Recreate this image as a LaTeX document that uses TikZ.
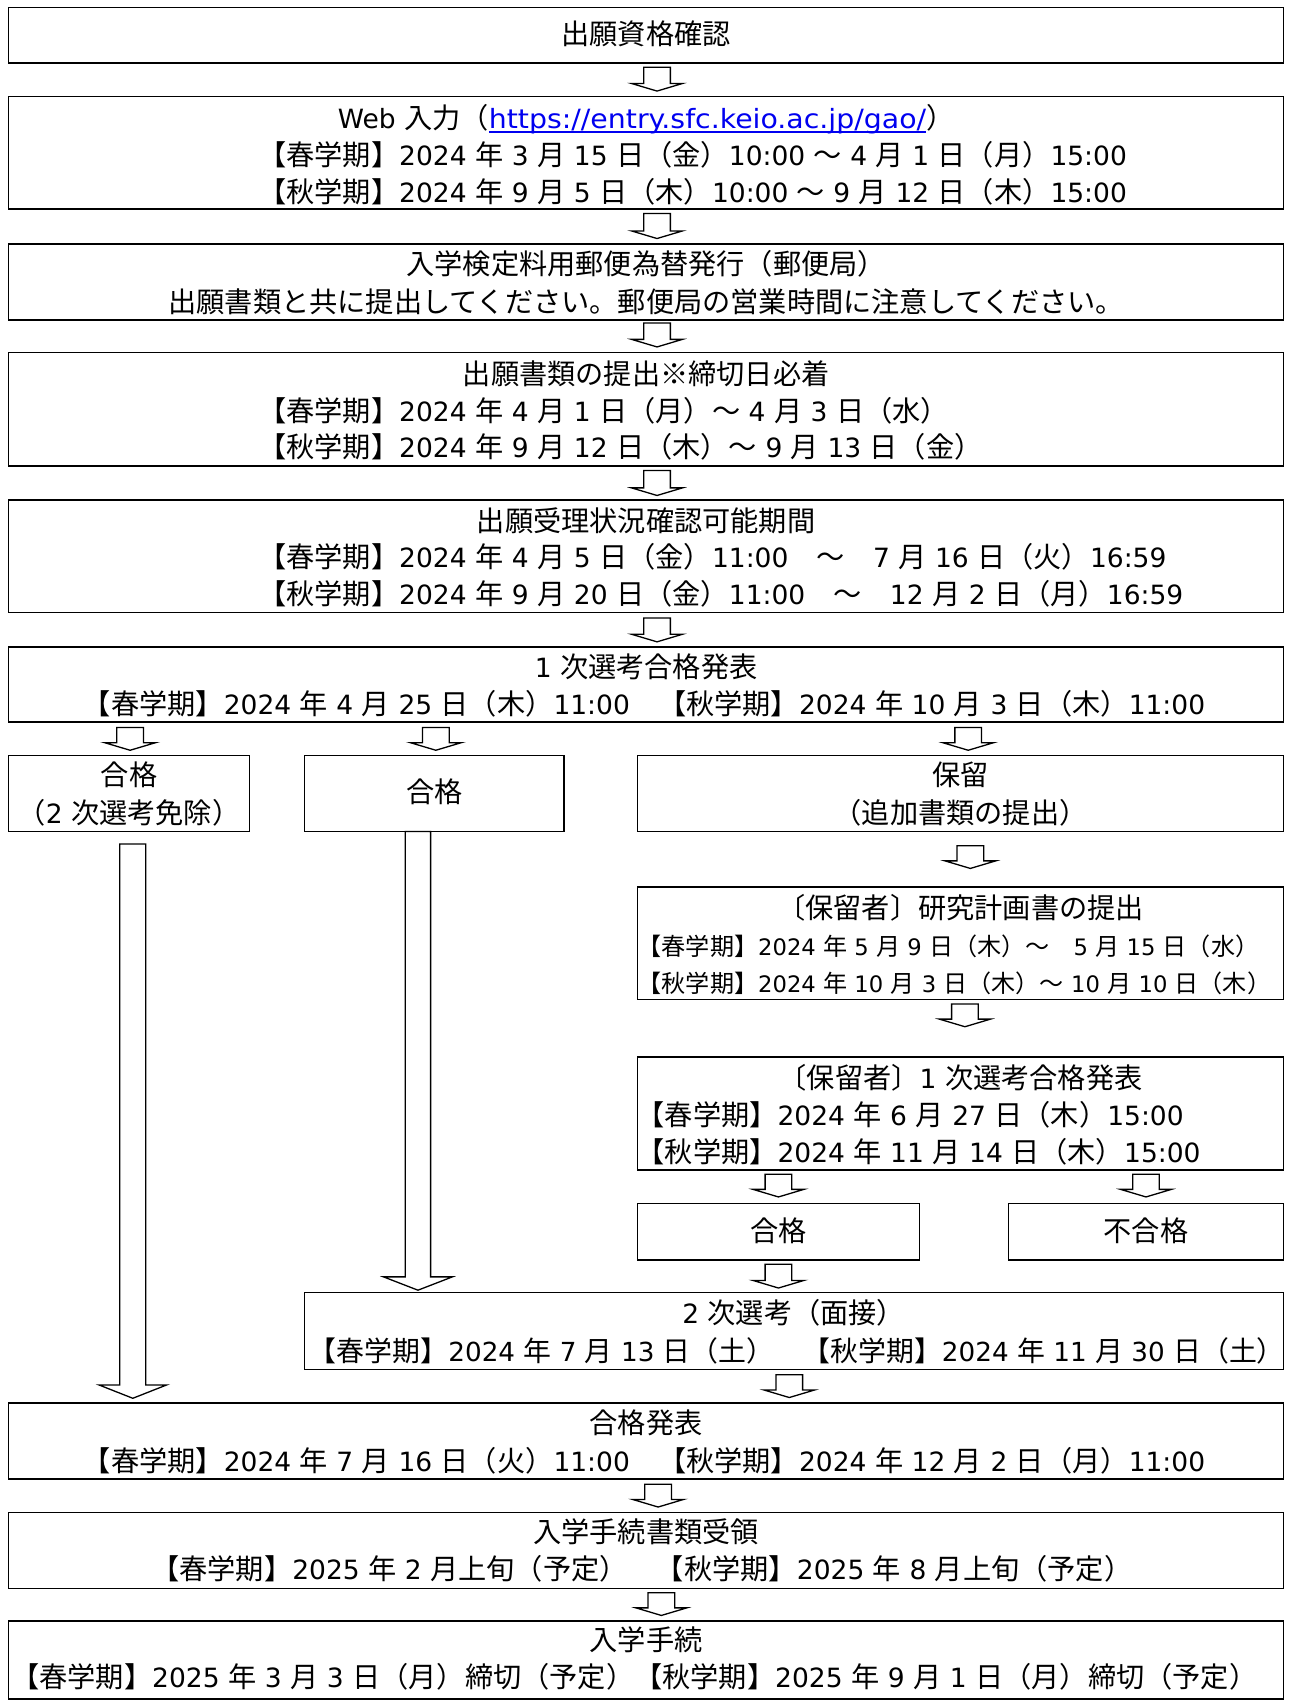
\documentclass[tikz,border=0pt]{standalone}
\usepackage{fontspec}
\usepackage{graphicx}
\setmainfont{DejaVu Sans}[Scale=0.94]
\newfontfamily\latfont{DejaVu Sans}[Scale=0.94]
\newfontfamily\cjkfont{Noto Sans CJK JP}
\usetikzlibrary{fit}
\definecolor{urlblue}{RGB}{0,0,240}
% automatic font switching between Latin and Japanese
\XeTeXinterchartokenstate=1
\chardef\cjkA=20
\chardef\cjkP=21
\makeatletter
\count@="3000
\loop\XeTeXcharclass\count@=\cjkA \advance\count@ by 1 \ifnum\count@<"A000 \repeat
\count@="FF00
\loop\XeTeXcharclass\count@=\cjkA \advance\count@ by 1 \ifnum\count@<"FFF0 \repeat
\makeatother
\XeTeXcharclass"203B=\cjkA
\XeTeXcharclass"3000=\cjkP
\XeTeXcharclass"3001=\cjkP
\XeTeXcharclass"3002=\cjkP
\XeTeXcharclass"3010=\cjkP
\XeTeXcharclass"3011=\cjkP
\XeTeXcharclass"3014=\cjkP
\XeTeXcharclass"3015=\cjkP
\XeTeXcharclass"FF08=\cjkP
\XeTeXcharclass"FF09=\cjkP
\XeTeXcharclass"FF5E=\cjkP
\XeTeXinterchartoks 0 \cjkA={\hskip.32em\cjkfont}
\XeTeXinterchartoks 4095 \cjkA={\cjkfont}
\XeTeXinterchartoks 0 \cjkP={\cjkfont}
\XeTeXinterchartoks 4095 \cjkP={\cjkfont}
\XeTeXinterchartoks \cjkA 0={\latfont\hskip.32em}
\XeTeXinterchartoks \cjkA 4095={\latfont}
\XeTeXinterchartoks \cjkP 0={\latfont}
\XeTeXinterchartoks \cjkP 4095={\latfont}
\newcommand\mainsz{\fontsize{28.2pt}{34pt}\selectfont}
\newcommand\tightsz{\fontsize{27.9pt}{34pt}\selectfont}
\newcommand\smallsz{\fontsize{24.1pt}{29pt}\selectfont}
\newcommand\urltext[1]{\setbox0\hbox{\scalebox{1.07}[1]{\latfont #1}}\rlap{\rule[-4.2pt]{\wd0}{1.7pt}}\box0}
\newcommand\blockarr[6]{\draw[barrow] ({#1-#4},#2) -- ({#1+#4},#2) -- ({#1+#4},{#3-#6}) -- ({#1+#5},{#3-#6}) -- (#1,#3) -- ({#1-#5},{#3-#6}) -- ({#1-#4},{#3-#6}) -- cycle;}
\newcommand\sarr[3]{\blockarr{#1}{#2}{#3}{12.3}{23.5}{7}}
\tikzset{
  box/.style={draw, line width=1.6pt, inner sep=0pt},
  txt/.style={inner sep=0pt, text height=24.8pt, text depth=3.6pt, font=\mainsz},
  stxt/.style={inner sep=0pt, text height=21.2pt, text depth=3.1pt, font=\smallsz},
  barrow/.style={draw, line width=1.3pt, fill=white, line join=miter},
}
\begin{document}
\begin{tikzpicture}[x=1.0842pt,y=-1.0842pt]
\useasboundingbox (0,0) rectangle (1188,1568);
\fill[white] (0,0) rectangle (1188,1568);
% boxes
\node[box, fit={(8,7) (1184,58)}] (b1) {};
\node[box, fit={(8,89) (1184,193)}] (b2) {};
\node[box, fit={(8,225) (1184,295)}] (b3) {};
\node[box, fit={(8,325) (1184,430)}] (b4) {};
\node[box, fit={(8,461) (1184,565)}] (b5) {};
\node[box, fit={(8,597) (1184,666)}] (b6) {};
\node[box, fit={(8,697) (230,767)}] (b7a) {};
\node[box, fit={(281,697) (520,767)}] (b7b) {};
\node[box, fit={(588,697) (1184,767)}] (b7c) {};
\node[box, fit={(588,818) (1184,922)}] (b8) {};
\node[box, fit={(588,975) (1184,1079)}] (b9) {};
\node[box, fit={(588,1110) (848,1162)}] (b10a) {};
\node[box, fit={(930,1110) (1184,1162)}] (b10b) {};
\node[box, fit={(281,1192) (1184,1263)}] (b11) {};
\node[box, fit={(8,1294) (1184,1364)}] (b12) {};
\node[box, fit={(8,1395) (1184,1465)}] (b13) {};
\node[box, fit={(8,1495) (1184,1567)}] (b14) {};
% texts
\node[txt] (t1) at (596,31) {出願資格確認};
\node[txt] (t2a) at (596,109) {Web 入力（\textcolor{urlblue}{\urltext{https://entry.sfc.keio.ac.jp/gao/}}）};
\node[txt, anchor=west] (t2b) at (238,143) {【春学期】2024年3月15日（金）10:00 ～ 4月1日（月）15:00};
\node[txt, anchor=west] (t2c) at (238,177) {【秋学期】2024年9月5日（木）10:00 ～ 9月12日（木）15:00};
\node[txt] (t3a) at (596,243) {入学検定料用郵便為替発行（郵便局）};
\node[txt] (t3b) at (596,278) {出願書類と共に提出してください。郵便局の営業時間に注意してください。};
\node[txt] (t4a) at (596,345) {出願書類の提出※締切日必着};
\node[txt, anchor=west] (t4b) at (238,379) {【春学期】2024年4月1日（月）～ 4月3日（水）};
\node[txt, anchor=west] (t4c) at (238,412) {【秋学期】2024年9月12日（木）～ 9月13日（金）};
\node[txt] (t5a) at (596,480) {出願受理状況確認可能期間};
\node[txt, anchor=west] (t5b) at (238,514) {【春学期】2024年4月5日（金）11:00　～　7月16日（火）16:59};
\node[txt, anchor=west] (t5c) at (238,548) {【秋学期】2024年9月20日（金）11:00　～　12月2日（月）16:59};
\node[txt] (t6a) at (596,615) {1次選考合格発表};
\node[txt] (t6b) at (594,649) {【春学期】2024年4月25日（木）11:00　【秋学期】2024年10月3日（木）11:00};
\node[txt] (t7a1) at (119,715) {合格};
\node[txt] (t7a2) at (119,750) {（2次選考免除）};
\node[txt] (t7b) at (401,730) {合格};
\node[txt] (t7c1) at (886,715) {保留};
\node[txt] (t7c2) at (886,750) {（追加書類の提出）};
\node[txt] (t8a) at (886,837) {〔保留者〕研究計画書の提出};
\node[stxt, anchor=west] (t8b) at (588,873) {【春学期】2024年5月9日（木）～　5月15日（水）};
\node[stxt, anchor=west] (t8c) at (588,907) {【秋学期】2024年10月3日（木）～ 10月10日（木）};
\node[txt] (t9a) at (886,994) {〔保留者〕1次選考合格発表};
\node[txt, anchor=west] (t9b) at (587,1028) {【春学期】2024年6月27日（木）15:00};
\node[txt, anchor=west] (t9c) at (587,1062) {【秋学期】2024年11月14日（木）15:00};
\node[txt] (t10a) at (718,1135) {合格};
\node[txt] (t10b) at (1057,1135) {不合格};
\node[txt] (t11a) at (732,1211) {2次選考（面接）};
\node[txt, font=\tightsz] (t11b) at (735,1246) {【春学期】2024年7月13日（土）　【秋学期】2024年11月30日（土）};
\node[txt] (t12a) at (596,1312) {合格発表};
\node[txt] (t12b) at (594,1347) {【春学期】2024年7月16日（火）11:00　【秋学期】2024年12月2日（月）11:00};
\node[txt] (t13a) at (596,1413) {入学手続書類受領};
\node[txt] (t13b) at (592,1447) {【春学期】2025年2月上旬（予定）　【秋学期】2025年8月上旬（予定）};
\node[txt] (t14a) at (596,1513) {入学手続};
\node[txt] (t14b) at (585,1547) {【春学期】2025年3月3日（月）締切（予定）【秋学期】2025年9月1日（月）締切（予定）};
% block arrows
\sarr{606}{62}{84}
\sarr{606}{197}{220}
\sarr{606}{298}{320}
\sarr{606}{434}{457}
\sarr{606}{570}{592}
\sarr{120}{671}{692}
\sarr{402}{671}{692}
\sarr{893}{671}{692}
\sarr{895}{780}{801}
\sarr{890}{926}{947}
\sarr{718}{1083}{1104}
\sarr{1057}{1083}{1104}
\sarr{718}{1166}{1188}
\sarr{728}{1268}{1289}
\sarr{607}{1369}{1390}
\sarr{610}{1469}{1490}
\blockarr{122.5}{778.5}{1289.7}{12}{31.2}{12.3}
\blockarr{385.5}{767}{1190}{11.7}{31.8}{12.3}
\end{tikzpicture}
\end{document}
